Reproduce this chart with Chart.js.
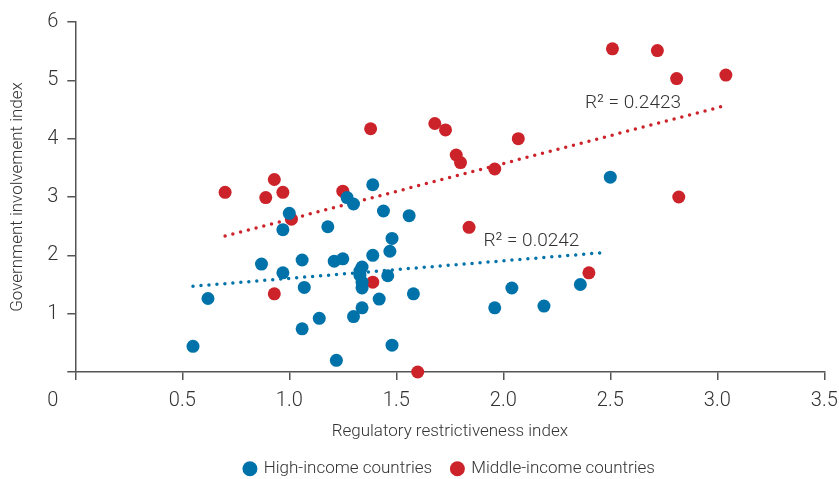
<!DOCTYPE html>
<html><head><meta charset="utf-8">
<script src="https://cdn.jsdelivr.net/npm/chart.js@4.4.1/dist/chart.umd.min.js"></script>
<style>html,body{margin:0;padding:0;background:#fff}canvas{display:block}</style>
</head><body>
<canvas id="c" width="839" height="479"></canvas>
<script>
// ---------- data ----------
const seriesNames = ['High-income countries', 'Middle-income countries'];
const highX = [0.55,0.62,0.87,0.97,0.97,1.00,1.06,1.06,1.07,1.14,1.18,1.21,1.25,1.22,1.27,1.30,1.39,1.44,1.56,1.48,1.47,1.39,1.34,1.33,1.34,1.34,1.46,1.42,1.58,1.34,1.30,1.48,1.96,2.04,2.19,2.36,2.50,1.33];
const highY = [0.44,1.26,1.85,2.44,1.70,2.72,1.92,0.74,1.45,0.92,2.49,1.90,1.94,0.20,2.99,2.88,3.21,2.76,2.68,2.29,2.07,2.00,1.80,1.66,1.54,1.44,1.65,1.25,1.34,1.10,0.95,0.46,1.10,1.44,1.13,1.50,3.34,1.73];
const middleX = [0.70,0.89,0.93,0.97,1.01,0.93,1.25,1.38,1.39,1.60,1.68,1.73,1.78,1.80,1.84,1.96,2.07,2.40,2.51,2.72,2.81,2.82,3.04];
const middleY = [3.08,2.99,3.30,3.08,2.62,1.34,3.10,4.17,1.54,0.00,4.26,4.15,3.72,3.59,2.48,3.48,4.00,1.70,5.54,5.51,5.03,3.00,5.09];
const highTrendX = [0.55, 2.48];
const highTrendY = [1.47, 2.05];
const middleTrendX = [0.70, 3.02];
const middleTrendY = [2.33, 4.55];
const r2Texts = ['R\u00B2 = 0.0242', 'R\u00B2 = 0.2423'];
const xTickValues = [0, 0.5, 1.0, 1.5, 2.0, 2.5, 3.0, 3.5];
const xTickLabels = ['', '0.5', '1.0', '1.5', '2.0', '2.5', '3.0', '3.5'];
const yTickValues = [0, 1, 2, 3, 4, 5, 6];
const yTickLabels = ['', '1', '2', '3', '4', '5', '6'];
const originLabel = '0';
const xTitle = 'Regulatory restrictiveness index';
const yTitle = 'Government involvement index';

// ---------- style ----------
const FONT = '"Roboto", "Liberation Sans", sans-serif';
const WEIGHT = 300;
const TEXT = '#333333';
const AXIS = '#555555';
const BLUE = '#0072AA';
const RED = '#CC2229';
const TICK_LEN = 8, TICK_PAD = 9, TICK_FONT = 20;
const LABEL_FONT = 17;
// anchor (data coords) of R² labels: left edge, vertical middle
const r2Anchors = [{x: 1.907, y: 2.24}, {x: 2.382, y: 4.61}];

const pts = (xs, ys) => xs.map((v, i) => ({x: v, y: ys[i]}));

const extraText = {
  id: 'extraText',
  afterLayout(chart) {
    // centre the legend under the plot area
    const ca = chart.chartArea;
    if (chart.legend) { chart.legend.left = ca.left; chart.legend.right = ca.right; }
  },
  afterDatasetsDraw(chart) {
    const {ctx, scales: {x, y}} = chart;
    ctx.save();
    ctx.fillStyle = TEXT;
    ctx.font = `${WEIGHT} 19px ${FONT}`;
    ctx.textAlign = 'left';
    ctx.textBaseline = 'middle';
    r2Texts.forEach((t, i) => ctx.fillText(t, x.getPixelForValue(r2Anchors[i].x), y.getPixelForValue(r2Anchors[i].y)));
    ctx.font = `${WEIGHT} ${TICK_FONT}px ${FONT}`;
    ctx.textAlign = 'right';
    ctx.fillText(originLabel, y.right - TICK_LEN - TICK_PAD, x.top + TICK_LEN + TICK_PAD + TICK_FONT * 0.6);
    ctx.restore();
  }
};

new Chart(document.getElementById('c'), {
  type: 'scatter',
  data: {
    datasets: [
      {label: seriesNames[0], data: pts(highX, highY), backgroundColor: BLUE, borderColor: BLUE, borderWidth: 0,
       pointRadius: 6.5, pointHoverRadius: 6.5, pointStyle: 'circle', clip: false},
      {label: seriesNames[1], data: pts(middleX, middleY), backgroundColor: RED, borderColor: RED, borderWidth: 0,
       pointRadius: 6.5, pointHoverRadius: 6.5, pointStyle: 'circle', clip: false},
      {label: 'trend-mid', data: pts(middleTrendX, middleTrendY), showLine: true, borderColor: RED, backgroundColor: RED,
       borderWidth: 3.5, borderDash: [0, 8], borderCapStyle: 'round', pointRadius: 0, pointHoverRadius: 0, clip: false},
      {label: 'trend-high', data: pts(highTrendX, highTrendY), showLine: true, borderColor: BLUE, backgroundColor: BLUE,
       borderWidth: 3.5, borderDash: [0, 8], borderCapStyle: 'round', pointRadius: 0, pointHoverRadius: 0, clip: false}
    ]
  },
  options: {
    responsive: false,
    animation: false,
    events: [],
    layout: {padding: {left: 0, right: 14.7, top: 22, bottom: 0}},
    plugins: {
      tooltip: {enabled: false},
      legend: {
        position: 'bottom',
        maxHeight: 38.8,
        labels: {
          filter: (item) => item.datasetIndex < 2,
          usePointStyle: true,
          boxWidth: 10.6, boxHeight: 10.6,
          padding: 20,
          color: TEXT,
          font: {family: FONT, size: LABEL_FONT, weight: WEIGHT}
        }
      }
    },
    scales: {
      x: {
        type: 'linear', min: 0, max: 3.5,
        afterBuildTicks: (s) => { s.ticks = xTickValues.map(v => ({value: v})); },
        afterFit: (s) => { s.height = 68.2; s.paddingLeft = 0; s.paddingRight = 0; },
        grid: {display: true, drawOnChartArea: false, drawTicks: true, tickLength: TICK_LEN, color: AXIS, lineWidth: 1.5},
        border: {display: true, color: AXIS, width: 1.5},
        ticks: {
          autoSkip: false, maxRotation: 0, padding: TICK_PAD, color: TEXT,
          font: {family: FONT, size: TICK_FONT, weight: WEIGHT},
          callback: (v) => { const i = xTickValues.indexOf(v); return i >= 0 ? xTickLabels[i] : ''; }
        },
        title: {display: true, text: xTitle, color: TEXT, font: {family: FONT, size: LABEL_FONT, weight: WEIGHT, lineHeight: 1.0}, padding: {top: 0, bottom: 0}}
      },
      y: {
        type: 'linear', min: 0, max: 6,
        afterBuildTicks: (s) => { s.ticks = yTickValues.map(v => ({value: v})); },
        afterFit: (s) => { s.width = 75.3; s.paddingTop = 0; s.paddingBottom = 0; },
        grid: {display: true, drawOnChartArea: false, drawTicks: true, tickLength: TICK_LEN, color: AXIS, lineWidth: 1.5},
        border: {display: true, color: AXIS, width: 1.5},
        ticks: {
          autoSkip: false, padding: TICK_PAD, color: TEXT,
          font: {family: FONT, size: TICK_FONT, weight: WEIGHT},
          callback: (v) => { const i = yTickValues.indexOf(v); return i >= 0 ? yTickLabels[i] : ''; }
        },
        title: {display: true, text: yTitle, color: TEXT, font: {family: FONT, size: LABEL_FONT, weight: WEIGHT, lineHeight: 1.0}, padding: {top: 9.5, bottom: 0}}
      }
    }
  },
  plugins: [extraText]
});
</script>
</body></html>
